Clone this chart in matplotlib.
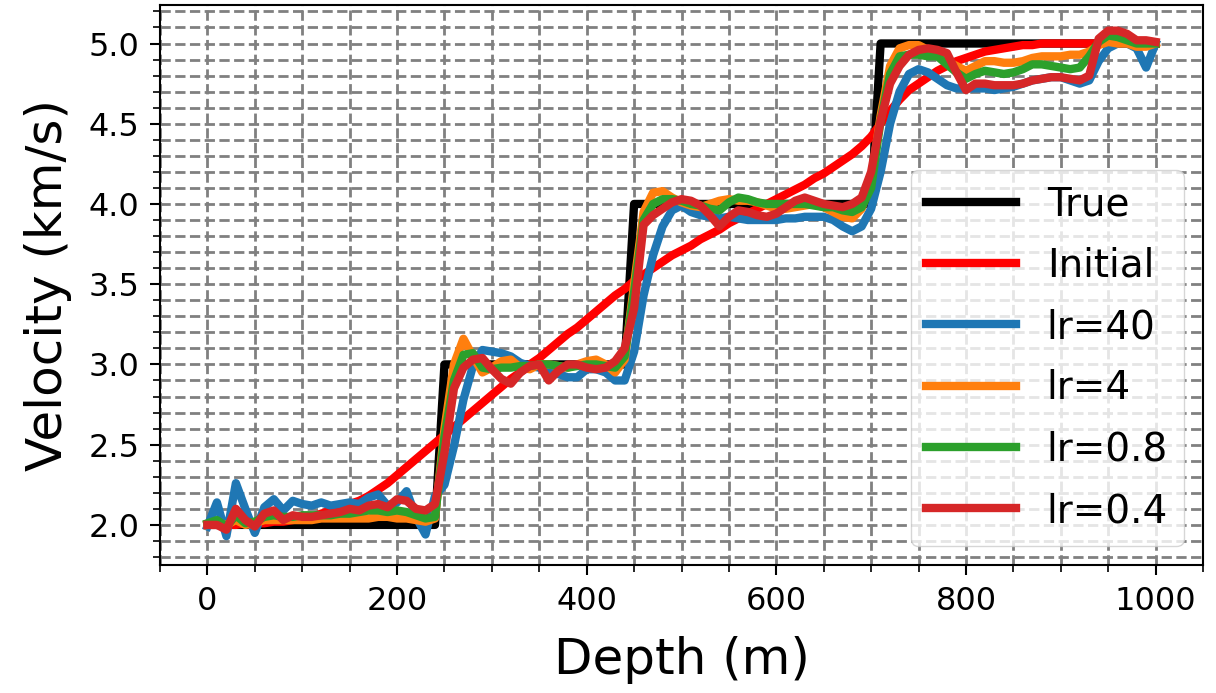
import numpy as np
import matplotlib.pyplot as plt
from matplotlib.ticker import MultipleLocator

depth = np.arange(0, 1001, 10)

true_v = [2.0] * 25 + [3.0] * 20 + [4.0] * 26 + [5.0] * 30

initial_v = [2.00, 2.00, 2.00, 2.00, 2.01, 2.01, 2.01, 2.02, 2.02, 2.03,
             2.04, 2.05, 2.07, 2.09, 2.11, 2.13, 2.15, 2.18, 2.22, 2.26,
             2.31, 2.36, 2.41, 2.46, 2.51, 2.56, 2.61, 2.66, 2.71, 2.76,
             2.81, 2.86, 2.91, 2.95, 3.00, 3.04, 3.09, 3.14, 3.19, 3.23,
             3.28, 3.33, 3.38, 3.43, 3.47, 3.52, 3.56, 3.60, 3.64, 3.68,
             3.71, 3.74, 3.78, 3.81, 3.84, 3.88, 3.91, 3.94, 3.97, 4.00,
             4.03, 4.06, 4.09, 4.12, 4.16, 4.19, 4.23, 4.27, 4.31, 4.36,
             4.42, 4.50, 4.58, 4.65, 4.71, 4.75, 4.79, 4.83, 4.86, 4.89,
             4.91, 4.93, 4.95, 4.96, 4.97, 4.98, 4.99, 4.99, 5.00, 5.00,
             5.00, 5.00, 5.00, 5.00, 5.00, 5.00, 5.00, 5.00, 5.00, 5.00, 5.00]

lr40_v = [1.99, 2.14, 1.93, 2.26, 2.10, 1.95, 2.11, 2.16, 2.09, 2.15,
          2.13, 2.12, 2.14, 2.12, 2.13, 2.14, 2.13, 2.17, 2.19, 2.12,
          2.14, 2.21, 2.05, 1.94, 2.18, 2.25, 2.49, 2.78, 2.99, 3.09,
          3.08, 3.07, 3.05, 3.01, 2.99, 2.98, 2.97, 2.94, 2.92, 2.92,
          2.97, 2.97, 2.95, 2.90, 2.90, 3.08, 3.43, 3.68, 3.86, 3.96,
          3.99, 3.95, 3.93, 3.92, 3.91, 3.92, 3.91, 3.90, 3.90, 3.90,
          3.90, 3.91, 3.91, 3.92, 3.92, 3.92, 3.90, 3.86, 3.83, 3.86,
          3.97, 4.20, 4.50, 4.70, 4.81, 4.84, 4.82, 4.78, 4.74, 4.72,
          4.72, 4.72, 4.72, 4.71, 4.72, 4.73, 4.75, 4.77, 4.78, 4.79,
          4.79, 4.77, 4.75, 4.77, 4.89, 4.97, 5.00, 5.00, 4.97, 4.85, 5.00]

lr4_v = [2.00, 2.01, 2.00, 2.03, 2.00, 2.01, 2.03, 2.03, 2.03, 2.03,
         2.03, 2.03, 2.04, 2.04, 2.04, 2.04, 2.04, 2.04, 2.05, 2.05,
         2.04, 2.04, 2.03, 2.02, 2.04, 2.60, 3.00, 3.16, 3.05, 2.95,
         2.98, 3.02, 3.03, 2.98, 2.97, 3.00, 3.00, 2.99, 2.98, 3.00,
         3.02, 3.03, 3.00, 2.95, 3.03, 3.50, 3.95, 4.07, 4.08, 4.04,
         4.01, 3.99, 3.98, 4.00, 4.02, 4.03, 4.02, 4.02, 4.01, 3.99,
         3.97, 3.97, 3.98, 3.99, 4.00, 3.98, 3.95, 3.92, 3.91, 3.97,
         4.15, 4.55, 4.86, 4.97, 4.99, 4.99, 4.96, 4.92, 4.89, 4.86,
         4.83, 4.86, 4.89, 4.89, 4.88, 4.88, 4.89, 4.91, 4.92, 4.92,
         4.92, 4.93, 4.93, 4.95, 4.99, 5.01, 5.00, 5.00, 4.98, 4.98, 5.00]

lr08_v = [2.01, 2.03, 1.99, 2.06, 2.01, 2.02, 2.05, 2.06, 2.05, 2.05,
          2.06, 2.06, 2.06, 2.06, 2.07, 2.07, 2.08, 2.09, 2.09, 2.08,
          2.09, 2.08, 2.06, 2.04, 2.05, 2.55, 2.90, 3.06, 3.07, 2.98,
          2.97, 2.98, 2.98, 2.99, 2.99, 3.00, 3.00, 2.99, 2.98, 2.99,
          3.00, 3.00, 2.99, 2.98, 3.05, 3.45, 3.90, 4.00, 4.03, 4.03,
          4.02, 4.00, 3.99, 3.97, 3.96, 4.01, 4.04, 4.03, 4.01, 4.00,
          4.00, 4.00, 4.00, 4.00, 3.99, 3.98, 3.98, 3.96, 3.95, 3.98,
          4.10, 4.52, 4.81, 4.92, 4.93, 4.93, 4.92, 4.92, 4.87, 4.82,
          4.78, 4.81, 4.83, 4.82, 4.81, 4.82, 4.84, 4.87, 4.87, 4.86,
          4.85, 4.84, 4.85, 4.92, 5.01, 5.05, 5.04, 5.02, 5.00, 5.00, 5.00]

lr04_v = [2.00, 2.00, 1.97, 2.10, 2.03, 1.99, 2.07, 2.09, 2.03, 2.06,
          2.05, 2.05, 2.06, 2.07, 2.08, 2.10, 2.09, 2.12, 2.13, 2.11,
          2.16, 2.15, 2.10, 2.09, 2.13, 2.45, 2.85, 2.98, 3.03, 3.04,
          2.97, 2.91, 2.88, 2.95, 2.99, 3.00, 2.90, 2.96, 3.00, 3.00,
          2.98, 2.97, 2.98, 3.02, 3.10, 3.35, 3.87, 3.93, 3.97, 4.01,
          4.03, 4.02, 3.99, 3.93, 3.86, 3.92, 3.96, 3.95, 3.93, 3.92,
          3.94, 3.98, 4.02, 4.04, 4.02, 4.00, 3.99, 3.98, 4.00, 4.04,
          4.20, 4.52, 4.75, 4.86, 4.93, 4.96, 4.97, 4.96, 4.94, 4.82,
          4.71, 4.75, 4.75, 4.74, 4.74, 4.74, 4.75, 4.77, 4.78, 4.79,
          4.79, 4.78, 4.77, 4.80, 5.03, 5.08, 5.08, 5.06, 5.02, 5.02, 5.01]

fig = plt.figure(figsize=(12.16, 6.93), dpi=100)
ax = fig.add_axes([0.1316, 0.1847, 0.8577, 0.8081])

lw = 6
ax.plot(depth, true_v, 'k', lw=lw, label="True")
ax.plot(depth, initial_v, 'r', lw=lw, label="Initial")
ax.plot(depth, lr40_v, color='tab:blue', lw=lw, label="lr=40")
ax.plot(depth, lr4_v, color='tab:orange', lw=lw, label="lr=4")
ax.plot(depth, lr08_v, color='tab:green', lw=lw, label="lr=0.8")
ax.plot(depth, lr04_v, color='tab:red', lw=lw, label="lr=0.4")

ax.set_xlim(-50, 1050)
ax.set_ylim(1.75, 5.24)
ax.xaxis.set_minor_locator(MultipleLocator(50))
ax.yaxis.set_minor_locator(MultipleLocator(0.1))
ax.set_yticks([2.0, 2.5, 3.0, 3.5, 4.0, 4.5, 5.0])
ax.grid(which='both', linestyle='--', color='gray', lw=2)
ax.tick_params(which='major', labelsize=23, length=7, width=1.5, pad=8)
ax.tick_params(which='minor', length=5, width=1.2)
for s in ax.spines.values():
    s.set_linewidth(1.5)

ax.set_xlabel('Depth (m)', fontsize=36, labelpad=14)
ax.set_ylabel('Velocity (km/s)', fontsize=36, labelpad=12)
ax.legend(loc='lower right', fontsize=28, handlelength=2.3, labelspacing=0.6)

fig.savefig('out.png', dpi=100)
